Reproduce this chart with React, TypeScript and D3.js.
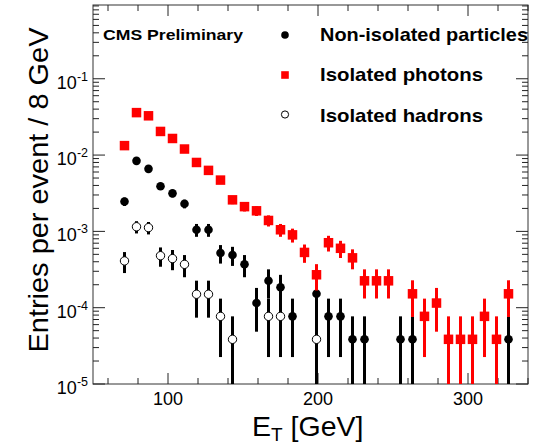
import React from "react";
import * as d3 from "d3";

// Bin centres (GeV) and values (entries per event / 8 GeV)
const photonE = [71, 79, 87, 95, 103, 111, 119, 127, 135, 143, 151, 159, 167, 175, 183, 191, 199, 207, 215, 223, 231, 239, 247, 263, 271, 279, 287, 295, 303, 311, 319, 327];
const photonV = [0.0133, 0.036, 0.0327, 0.0204, 0.0165, 0.012, 0.008, 0.0063, 0.0047, 0.00259, 0.00211, 0.00186, 0.00139, 0.00105, 0.0009, 0.00053, 0.00027, 0.00071, 0.0006, 0.00045, 0.000225, 0.000225, 0.000225, 0.000152, 0.000077, 0.000115, 0.0000385, 0.0000385, 0.0000385, 0.000077, 0.0000385, 0.000152];

const nonIsoE = [71, 79, 87, 95, 103, 111, 119, 127, 135, 143, 151, 159, 167, 175, 183, 199, 207, 215, 223, 231, 255, 263, 327];
const nonIsoV = [0.00246, 0.0084, 0.0066, 0.0039, 0.00315, 0.0023, 0.00105, 0.00105, 0.00052, 0.00049, 0.00037, 0.000115, 0.000225, 0.000185, 0.000077, 0.000152, 0.000077, 0.000077, 0.0000385, 0.0000385, 0.0000385, 0.0000385, 0.0000385];

const hadronE = [71, 79, 87, 95, 103, 111, 119, 127, 135, 143, 167, 175, 199];
const hadronV = [0.00041, 0.00115, 0.00112, 0.00048, 0.00044, 0.00037, 0.00015, 0.00015, 0.000077, 0.0000385, 0.000077, 0.000077, 0.0000385];

// value of a single entry (for Poisson error bars)
const oneEntry = 3.85e-5;

const xMajorTicks = [100, 200, 300];
const yDecades = [-5, -4, -3, -2, -1];

const legendItems = ["Non-isolated particles", "Isolated photons", "Isolated hadrons"];

export default function App() {
  const left = 93, right = 528, top = 5, bottom = 384;
  const x = d3.scaleLinear().domain([50, 340]).range([left, right]);
  const y = d3.scaleLog().domain([1e-5, 0.926]).range([bottom, top]);
  const yMin = 1e-5;

  const xMinor = d3.range(60, 341, 20).filter((v) => v % 100 !== 0);
  const yMajor = yDecades.map((k) => Math.pow(10, k));
  const yMinor: number[] = [];
  yDecades.forEach((k) => {
    for (let m = 2; m <= 9; m++) {
      const v = m * Math.pow(10, k);
      if (v <= 0.926) yMinor.push(v);
    }
  });

  const errBar = (e: number, v: number) => {
    const err = Math.sqrt(v * oneEntry);
    const lo = Math.max(v - err, yMin);
    const hi = v + err;
    return { x: x(e), y1: y(lo), y2: y(hi) };
  };

  const font = "'Liberation Sans', Arial, Helvetica, sans-serif";
  const tickStroke = "#222";

  return (
    <svg width={537} height={443} style={{ position: "fixed", left: 0, top: 0, background: "#fff" }} fontFamily={font}>
      <rect x={0} y={0} width={537} height={443} fill="#fff" />

      {/* frame */}
      <rect x={left} y={top} width={right - left} height={bottom - top} fill="none" stroke="#333" strokeWidth={1} />

      {/* x ticks bottom & top */}
      {xMajorTicks.map((t) => (
        <g key={"xm" + t}>
          <line x1={x(t)} x2={x(t)} y1={bottom} y2={bottom - 11} stroke={tickStroke} />
          <line x1={x(t)} x2={x(t)} y1={top} y2={top + 11} stroke={tickStroke} />
          <text x={x(t)} y={404.5} fontSize={18} textAnchor="middle" fill="#000">{t}</text>
        </g>
      ))}
      {xMinor.map((t) => (
        <g key={"xn" + t}>
          <line x1={x(t)} x2={x(t)} y1={bottom} y2={bottom - 6} stroke={tickStroke} />
          <line x1={x(t)} x2={x(t)} y1={top} y2={top + 6} stroke={tickStroke} />
        </g>
      ))}

      {/* y ticks left & right */}
      {yMajor.map((t, i) => (
        <g key={"ym" + i}>
          <line x1={left} x2={left + 12} y1={y(t)} y2={y(t)} stroke={tickStroke} />
          <line x1={right} x2={right - 12} y1={y(t)} y2={y(t)} stroke={tickStroke} />
          <text x={88} y={y(t) + 10} fontSize={18} textAnchor="end" fill="#000">
            10<tspan fontSize={12.5} dy={-8}>{yDecades[i]}</tspan>
          </text>
        </g>
      ))}
      {yMinor.map((t, i) => (
        <g key={"yn" + i}>
          <line x1={left} x2={left + 6} y1={y(t)} y2={y(t)} stroke={tickStroke} />
          <line x1={right} x2={right - 6} y1={y(t)} y2={y(t)} stroke={tickStroke} />
        </g>
      ))}

      {/* axis titles */}
      <text x={252} y={435.5} fontSize={28.5} fill="#000">
        E<tspan fontSize={19} dy={5}>T</tspan>
        <tspan fontSize={28.5} dy={-5}> [GeV]</tspan>
      </text>
      <text transform="translate(48,190) rotate(-90)" fontSize={28} textAnchor="middle" fill="#000" textLength={325} lengthAdjust="spacingAndGlyphs">
        Entries per event / 8 GeV
      </text>

      {/* non-isolated particles */}
      <g>
        {nonIsoE.map((e, i) => {
          const b = errBar(e, nonIsoV[i]);
          return <line key={"nb" + i} x1={b.x} x2={b.x} y1={b.y1} y2={b.y2} stroke="#000" strokeWidth={3} />;
        })}
        {nonIsoE.map((e, i) => (
          <circle key={"nc" + i} cx={x(e)} cy={y(nonIsoV[i])} r={4.3} fill="#000" />
        ))}
      </g>

      {/* isolated hadrons */}
      <g>
        {hadronE.map((e, i) => {
          const b = errBar(e, hadronV[i]);
          return <line key={"hb" + i} x1={b.x} x2={b.x} y1={b.y1} y2={b.y2} stroke="#000" strokeWidth={3} />;
        })}
      </g>

      {/* isolated photons */}
      <g>
        {photonE.map((e, i) => {
          const b = errBar(e, photonV[i]);
          return <line key={"pb" + i} x1={b.x} x2={b.x} y1={b.y1} y2={b.y2} stroke="#f00" strokeWidth={3} />;
        })}
        {photonE.map((e, i) => (
          <rect key={"pr" + i} x={x(e) - 4.75} y={y(photonV[i]) - 4.75} width={9.5} height={9.5} fill="#f00" />
        ))}
      </g>

      {/* hadron markers on top */}
      <g>
        {hadronE.map((e, i) => (
          <circle key={"hc" + i} cx={x(e)} cy={y(hadronV[i])} r={4.2} fill="#fff" stroke="#000" strokeWidth={1} />
        ))}
      </g>

      {/* legend */}
      <text x={103} y={39.5} fontSize={15.5} fontWeight="bold" fill="#000" textLength={140} lengthAdjust="spacingAndGlyphs">CMS Preliminary</text>
      <circle cx={285} cy={35} r={3.8} fill="#000" />
      <rect x={281.2} y={71.2} width={7.6} height={7.6} fill="#f00" />
      <circle cx={285} cy={114.5} r={3.6} fill="#fff" stroke="#000" strokeWidth={1} />
      <text x={320} y={40.7} fontSize={18.5} fontWeight="bold" fill="#000" textLength={208} lengthAdjust="spacingAndGlyphs">{legendItems[0]}</text>
      <text x={320} y={81} fontSize={18.5} fontWeight="bold" fill="#000" textLength={163} lengthAdjust="spacingAndGlyphs">{legendItems[1]}</text>
      <text x={320} y={121.7} fontSize={18.5} fontWeight="bold" fill="#000" textLength={163} lengthAdjust="spacingAndGlyphs">{legendItems[2]}</text>
    </svg>
  );
}
